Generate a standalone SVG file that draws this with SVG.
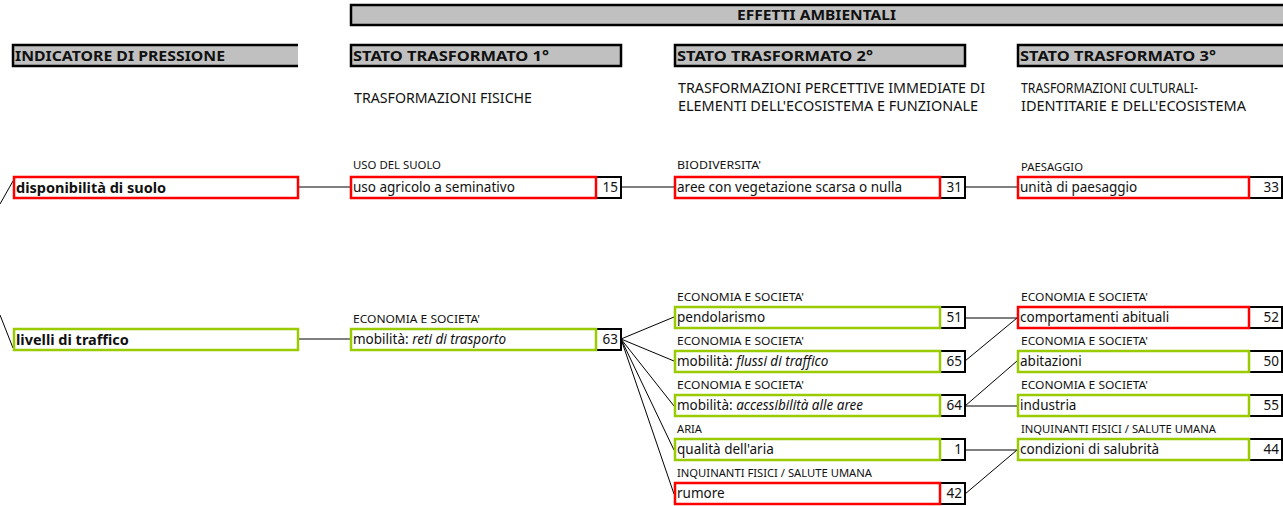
<svg xmlns="http://www.w3.org/2000/svg" width="1283" height="506" viewBox="0 0 1283 506">
<style>
text{font-family:"Noto Sans","Liberation Sans",sans-serif;fill:#111}
.hd{fill:#c0c0c0;stroke:none}
.hb{fill:none;stroke:#000;stroke-width:2.5}
.ht{font-size:14px;font-weight:bold}
.sub{font-size:13.5px}
.cat{font-size:11px}
.lbl{font-size:13.5px}
.bl{font-size:14.5px;font-weight:bold}
.num{font-size:13.5px;text-anchor:end}
.red{fill:#fff;stroke:#ff0000;stroke-width:2.5}
.grn{fill:#fff;stroke:#99cc00;stroke-width:2.5}
.nb{fill:#fff;stroke:#000;stroke-width:2}
.cn line{stroke:#000;stroke-width:1}
</style>
<g id="headers">
<rect class="hd" x="350" y="5" width="933" height="20"/>
<path class="hb" d="M1283,5 H351 V25 H1283"/>
<text class="ht" x="737" y="20" textLength="159" lengthAdjust="spacingAndGlyphs">EFFETTI AMBIENTALI</text>
<rect class="hd" x="12" y="45" width="286" height="21"/>
<path class="hb" d="M298,45 H13 V66 H298"/>
<text class="ht" x="15" y="61" textLength="210" lengthAdjust="spacingAndGlyphs">INDICATORE DI PRESSIONE</text>
<rect class="hd" x="350" y="45" width="271" height="21"/>
<rect class="hb" x="351" y="45" width="270" height="21"/>
<text class="ht" x="353" y="61" textLength="196" lengthAdjust="spacingAndGlyphs">STATO TRASFORMATO 1°</text>
<rect class="hd" x="674" y="45" width="291" height="21"/>
<rect class="hb" x="675" y="45" width="290" height="21"/>
<text class="ht" x="677" y="61" textLength="196" lengthAdjust="spacingAndGlyphs">STATO TRASFORMATO 2°</text>
<rect class="hd" x="1017" y="45" width="266" height="21"/>
<path class="hb" d="M1283,45 H1018 V66 H1283"/>
<text class="ht" x="1020" y="61" textLength="196" lengthAdjust="spacingAndGlyphs">STATO TRASFORMATO 3°</text>
<text class="sub" x="354" y="103" textLength="178" lengthAdjust="spacingAndGlyphs">TRASFORMAZIONI FISICHE</text>
<text class="sub" x="678" y="93" textLength="307" lengthAdjust="spacingAndGlyphs">TRASFORMAZIONI PERCETTIVE IMMEDIATE DI</text>
<text class="sub" x="678" y="111" textLength="300" lengthAdjust="spacingAndGlyphs">ELEMENTI DELL'ECOSISTEMA E FUNZIONALE</text>
<text class="sub" x="1021" y="93" textLength="177" lengthAdjust="spacingAndGlyphs">TRASFORMAZIONI CULTURALI-</text>
<text class="sub" x="1021" y="111" textLength="225" lengthAdjust="spacingAndGlyphs">IDENTITARIE E DELL'ECOSISTEMA</text>
</g>
<g class="cn" id="connectors">
<line x1="0" y1="204" x2="13" y2="181"/>
<line x1="0" y1="315" x2="13" y2="348"/>
<line x1="298" y1="187" x2="350" y2="187"/>
<line x1="621" y1="187" x2="674" y2="187"/>
<line x1="965" y1="187" x2="1017" y2="187"/>
<line x1="298" y1="339" x2="350" y2="339"/>
<line x1="621" y1="339" x2="674" y2="317"/>
<line x1="621" y1="339" x2="674" y2="361"/>
<line x1="621" y1="339" x2="674" y2="406"/>
<line x1="621" y1="339" x2="674" y2="450"/>
<line x1="621" y1="339" x2="674" y2="494"/>
<line x1="965" y1="318" x2="1017" y2="318"/>
<line x1="965" y1="361" x2="1017" y2="318"/>
<line x1="965" y1="406" x2="1017" y2="361"/>
<line x1="965" y1="406" x2="1017" y2="406"/>
<line x1="965" y1="450" x2="1017" y2="450"/>
<line x1="965" y1="494" x2="1017" y2="450"/>
</g>
<g id="n-disponibilita">
<rect class="red" x="14" y="177" width="284" height="21"/>
<text class="bl" x="16" y="192.5">disponibilità di suolo</text>
</g>
<g id="n-livelli">
<rect class="grn" x="14" y="329" width="284" height="21"/>
<text class="bl" x="16" y="344.5">livelli di traffico</text>
</g>
<g id="n-uso">
<text class="cat" x="353" y="169" textLength="88" lengthAdjust="spacingAndGlyphs">USO DEL SUOLO</text>
<rect class="nb" x="596" y="177" width="25" height="21"/>
<rect class="red" x="351" y="177" width="245" height="21"/>
<text class="lbl" x="353" y="192">uso agricolo a seminativo</text>
<text class="num" x="618" y="192">15</text>
</g>
<g id="n-aree">
<text class="cat" x="677" y="169" textLength="84" lengthAdjust="spacingAndGlyphs">BIODIVERSITA'</text>
<rect class="nb" x="940" y="177" width="25" height="21"/>
<rect class="red" x="675" y="177" width="265" height="21"/>
<text class="lbl" x="677" y="192">aree con vegetazione scarsa o nulla</text>
<text class="num" x="962" y="192">31</text>
</g>
<g id="n-unita">
<text class="cat" x="1021" y="171" textLength="62" lengthAdjust="spacingAndGlyphs">PAESAGGIO</text>
<rect class="nb" x="1249" y="177" width="33" height="21"/>
<rect class="red" x="1018" y="177" width="231" height="21"/>
<text class="lbl" x="1020" y="192">unità di paesaggio</text>
<text class="num" x="1279" y="192">33</text>
</g>
<g id="n-mobilita">
<text class="cat" x="353" y="323" textLength="127" lengthAdjust="spacingAndGlyphs">ECONOMIA E SOCIETA'</text>
<rect class="nb" x="596" y="329" width="25" height="21"/>
<rect class="grn" x="351" y="329" width="245" height="21"/>
<text class="lbl" x="353" y="344">mobilità: <tspan font-style="italic">reti di trasporto</tspan></text>
<text class="num" x="618" y="344">63</text>
</g>
<g id="n-pendolarismo">
<text class="cat" x="677" y="301" textLength="127" lengthAdjust="spacingAndGlyphs">ECONOMIA E SOCIETA'</text>
<rect class="nb" x="940" y="307" width="25" height="21"/>
<rect class="grn" x="675" y="307" width="265" height="21"/>
<text class="lbl" x="677" y="322">pendolarismo</text>
<text class="num" x="962" y="322">51</text>
</g>
<g id="n-flussi">
<text class="cat" x="677" y="345" textLength="127" lengthAdjust="spacingAndGlyphs">ECONOMIA E SOCIETA'</text>
<rect class="nb" x="940" y="351" width="25" height="21"/>
<rect class="grn" x="675" y="351" width="265" height="21"/>
<text class="lbl" x="677" y="366">mobilità: <tspan font-style="italic">flussi di traffico</tspan></text>
<text class="num" x="962" y="366">65</text>
</g>
<g id="n-accessibilita">
<text class="cat" x="677" y="389" textLength="127" lengthAdjust="spacingAndGlyphs">ECONOMIA E SOCIETA'</text>
<rect class="nb" x="940" y="395" width="25" height="21"/>
<rect class="grn" x="675" y="395" width="265" height="21"/>
<text class="lbl" x="677" y="410">mobilità: <tspan font-style="italic">accessibilità alle aree</tspan></text>
<text class="num" x="962" y="410">64</text>
</g>
<g id="n-aria">
<text class="cat" x="677" y="433" textLength="25" lengthAdjust="spacingAndGlyphs">ARIA</text>
<rect class="nb" x="940" y="439" width="25" height="21"/>
<rect class="grn" x="675" y="439" width="265" height="21"/>
<text class="lbl" x="677" y="454">qualità dell'aria</text>
<text class="num" x="962" y="454">1</text>
</g>
<g id="n-rumore">
<text class="cat" x="677" y="477" textLength="195" lengthAdjust="spacingAndGlyphs">INQUINANTI FISICI / SALUTE UMANA</text>
<rect class="nb" x="940" y="483" width="25" height="21"/>
<rect class="red" x="675" y="483" width="265" height="21"/>
<text class="lbl" x="677" y="498">rumore</text>
<text class="num" x="962" y="498">42</text>
</g>
<g id="n-comportamenti">
<text class="cat" x="1021" y="301" textLength="127" lengthAdjust="spacingAndGlyphs">ECONOMIA E SOCIETA'</text>
<rect class="nb" x="1249" y="307" width="33" height="21"/>
<rect class="red" x="1018" y="307" width="231" height="21"/>
<text class="lbl" x="1020" y="322">comportamenti abituali</text>
<text class="num" x="1279" y="322">52</text>
</g>
<g id="n-abitazioni">
<text class="cat" x="1021" y="345" textLength="127" lengthAdjust="spacingAndGlyphs">ECONOMIA E SOCIETA'</text>
<rect class="nb" x="1249" y="351" width="33" height="21"/>
<rect class="grn" x="1018" y="351" width="231" height="21"/>
<text class="lbl" x="1020" y="366">abitazioni</text>
<text class="num" x="1279" y="366">50</text>
</g>
<g id="n-industria">
<text class="cat" x="1021" y="389" textLength="127" lengthAdjust="spacingAndGlyphs">ECONOMIA E SOCIETA'</text>
<rect class="nb" x="1249" y="395" width="33" height="21"/>
<rect class="grn" x="1018" y="395" width="231" height="21"/>
<text class="lbl" x="1020" y="410">industria</text>
<text class="num" x="1279" y="410">55</text>
</g>
<g id="n-salubrita">
<text class="cat" x="1021" y="433" textLength="195" lengthAdjust="spacingAndGlyphs">INQUINANTI FISICI / SALUTE UMANA</text>
<rect class="nb" x="1249" y="439" width="33" height="21"/>
<rect class="grn" x="1018" y="439" width="231" height="21"/>
<text class="lbl" x="1020" y="454">condizioni di salubrità</text>
<text class="num" x="1279" y="454">44</text>
</g>
</svg>
